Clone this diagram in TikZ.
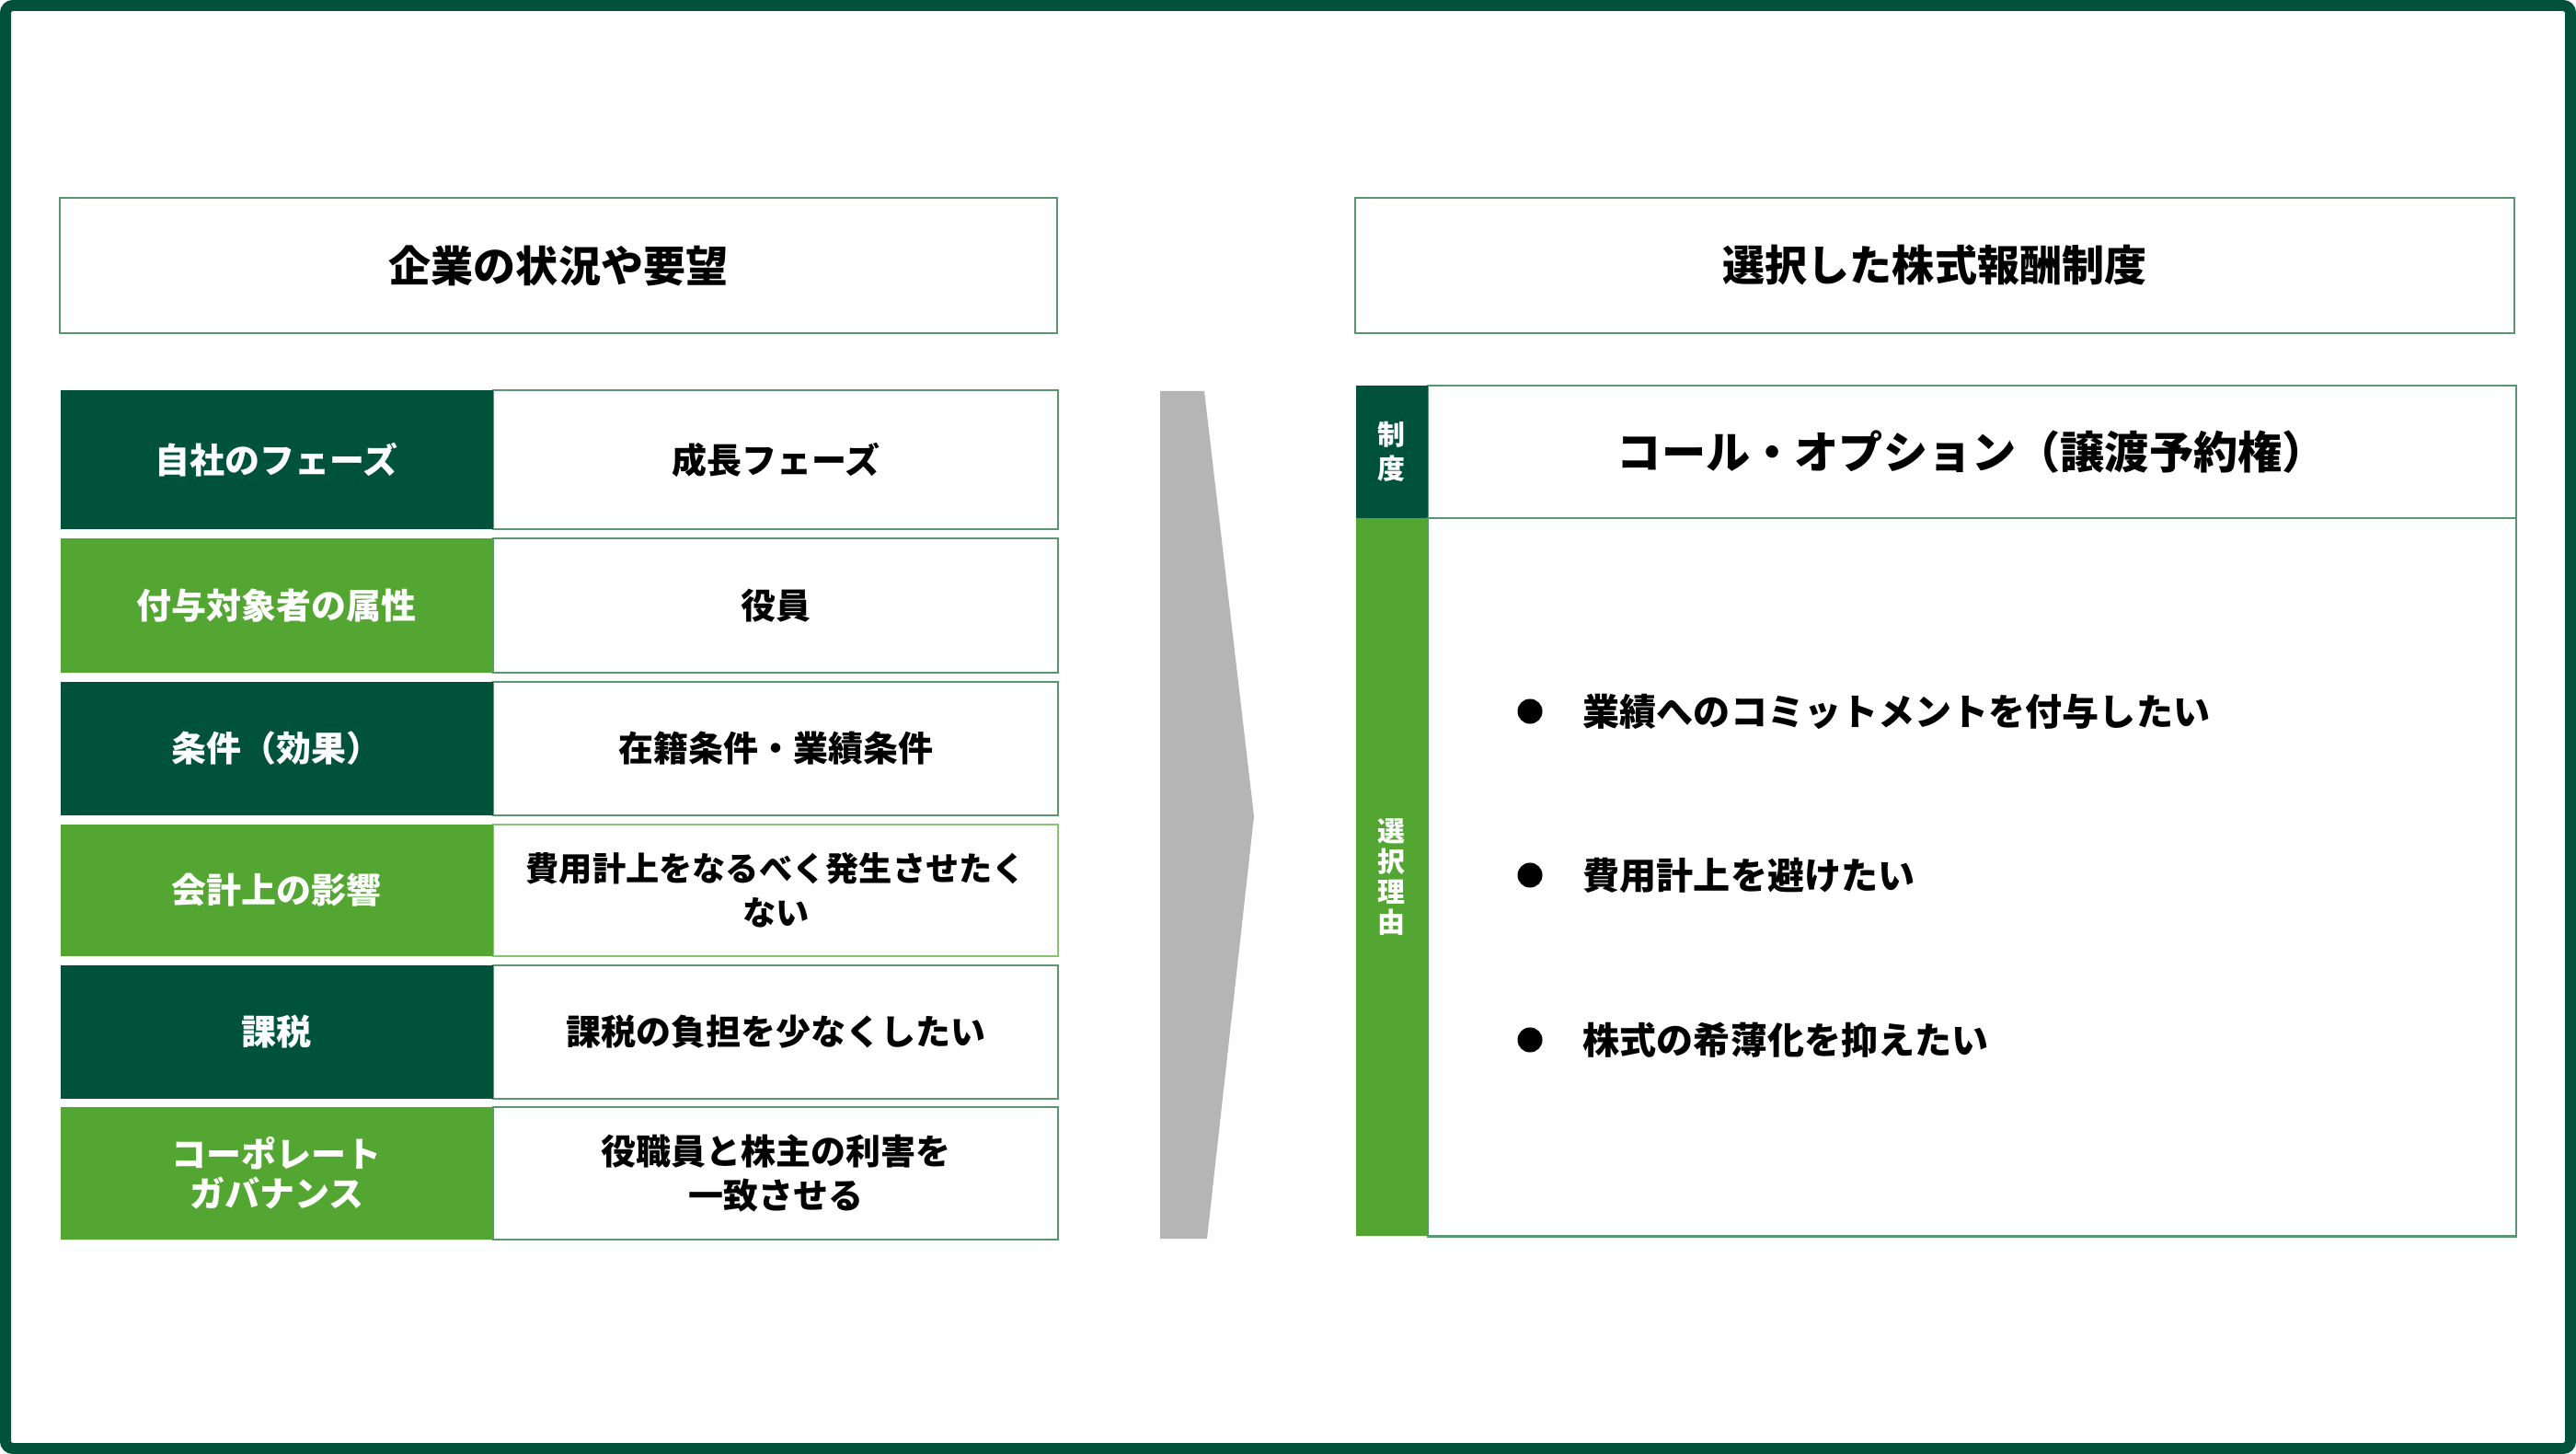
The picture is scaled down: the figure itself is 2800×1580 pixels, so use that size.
\documentclass[tikz,border=0pt]{standalone}
\usepackage{fontspec}
\setmainfont{Noto Sans CJK JP}
\usepackage{tikz}

\definecolor{darkgreen}{HTML}{00533A}
\definecolor{lightgreen}{HTML}{52A631}
\definecolor{boxline}{HTML}{5B9470}
\definecolor{lightline}{HTML}{86C470}
\definecolor{arrowgrey}{HTML}{B5B5B5}

\newcommand{\fs}[2]{\fontsize{#1}{#2}\selectfont\bfseries}

\begin{document}
\begin{tikzpicture}[x=0.01cm, y=-0.01cm,
    hdr/.style={draw=boxline, line width=0.6pt, fill=white, minimum height=1.47cm, inner sep=0pt, font=\fs{13.1pt}{16pt}},
    labcell/.style={anchor=north west, text=white, minimum width=4.7cm, inner sep=0pt, align=center, font=\fs{10.8pt}{12pt}},
    valcell/.style={anchor=north west, fill=white, line width=0.6pt, minimum width=6.14cm, inner sep=0pt, align=center, font=\fs{10.8pt}{13.6pt}},
    sidecell/.style={anchor=north west, text=white, minimum width=0.78cm, inner sep=0pt, align=center},
    item/.style={anchor=west, inner sep=0pt, font=\fs{11.4pt}{14pt}},
    dot/.style={circle, fill=black, minimum size=0.27cm, inner sep=0pt}]
      \useasboundingbox (0,0) rectangle (2800,1580);
      \fill[white] (0,0) rectangle (2800,1580);
      \draw[darkgreen, line width=0.12cm, rounded corners=0.08cm] (6,6) rectangle (2794,1574);

      % headings
      \node[hdr, minimum width=10.84cm] (leftHead) at (607,288.5) {企業の状況や要望};
      \node[hdr, minimum width=12.6cm] (rightHead) at (2103,288.5) {選択した株式報酬制度};

      % left table
      \foreach \n/\t/\h/\c/\l/\f/\lab/\val in {
          1/423/151/darkgreen/boxline/10.8/{自社のフェーズ}/{成長フェーズ},
          2/584/146/lightgreen/boxline/10.8/{付与対象者の属性}/{役員},
          3/740/145/darkgreen/boxline/10.8/{条件（効果）}/{在籍条件・業績条件},
          4/895/143/lightgreen/lightline/10.3/{会計上の影響}/{費用計上をなるべく発生させたく\\ない},
          5/1048/145/darkgreen/boxline/10.8/{課税}/{課税の負担を少なくしたい},
          6/1202/144/lightgreen/boxline/10.8/{コーポレート\\ガバナンス}/{役職員と株主の利害を\\一致させる}}
      {
        \node[valcell, draw=\l, minimum height=\h*0.01cm, font=\fs{\f pt}{13.6pt}] (val\n) at (535,\t) {\val};
        \node[labcell, fill=\c, minimum height=\h*0.01cm] (lab\n) at (65,\t) {\lab};
      }

      % arrow
      \fill[arrowgrey] (1261,425) -- (1309,425) -- (1363,887) -- (1312,1346) -- (1261,1346) -- cycle;

      % right table
      \node[valcell, draw=boxline, minimum width=11.82cm, minimum height=1.44cm, font=\fs{13.7pt}{16pt}] (plan) at (1551,418) {コール・オプション（譲渡予約権）};
      \node[sidecell, fill=darkgreen, minimum height=1.44cm, font=\fs{8.5pt}{10.5pt}] (planTag) at (1473,418) {制\\度};
      \node[valcell, draw=boxline, minimum width=11.82cm, minimum height=7.8cm] (reasons) at (1551,562) {};
      \node[sidecell, fill=lightgreen, minimum height=7.8cm, font=\fs{8.5pt}{9.4pt}] (reasonTag) at (1473,562) {選\\択\\理\\由};

      \node[dot] (d1) at (1663,773) {};
      \node[item] (r1) at (1720,773) {業績へのコミットメントを付与したい};
      \node[dot] (d2) at (1663,951) {};
      \node[item] (r2) at (1720,951) {費用計上を避けたい};
      \node[dot] (d3) at (1663,1130) {};
      \node[item] (r3) at (1720,1130) {株式の希薄化を抑えたい};
    \end{tikzpicture}
\end{document}
